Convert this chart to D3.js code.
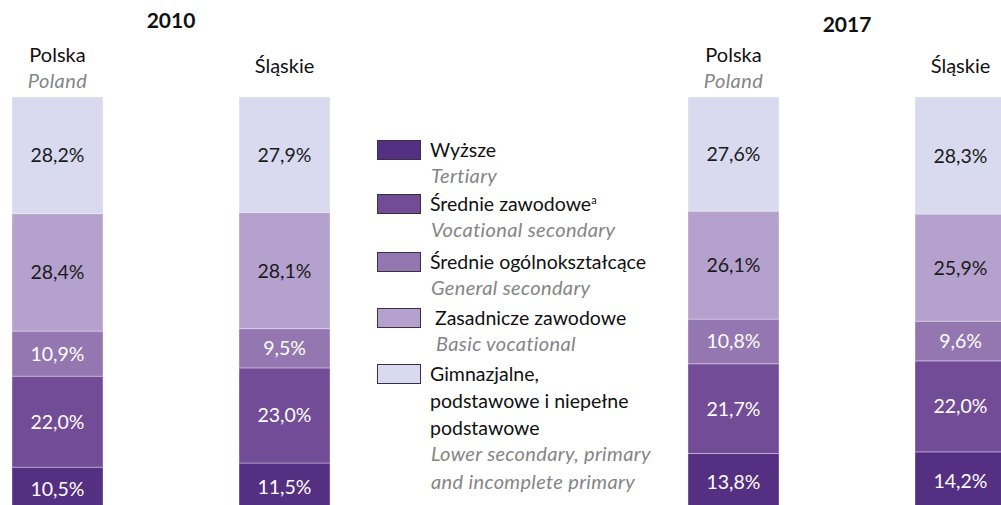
<!DOCTYPE html>
<html>
<head>
<meta charset="utf-8">
<script src="https://cdn.jsdelivr.net/npm/d3@7"></script>
<style>
  html, body { margin: 0; padding: 0; background: #fff; }
  svg { display: block; font-family: Lato, "Open Sans", sans-serif; }
</style>
</head>
<body>
<div id="chart"></div>
<script>
// data
const years = ["2010", "2017"];
const regions = ["Polska", "Śląskie"];
const regionsEn = ["Poland", ""];
const levels = ["Wyższe", "Średnie zawodowe", "Średnie ogólnokształcące", "Zasadnicze zawodowe", "Gimnazjalne"];
const levelsLegend = [
	["Wyższe"],
	["Średnie zawodowe"],
	["Średnie ogólnokształcące"],
	["Zasadnicze zawodowe"],
	["Gimnazjalne,", "podstawowe i niepełne", "podstawowe"]
];
const levelsEn = [
	["Tertiary"],
	["Vocational secondary"],
	["General secondary"],
	["Basic vocational"],
	["Lower secondary, primary", "and incomplete primary"]
];
const levelColors = ["#552f82", "#734c98", "#9477b0", "#b4a1cd", "#d9daef"];
// bottom to top, same order as levels
const polska2010 = [10.5, 22.0, 10.9, 28.4, 28.2];
const slaskie2010 = [11.5, 23.0, 9.5, 28.1, 27.9];
const polska2017 = [13.8, 21.7, 10.8, 26.1, 27.6];
const slaskie2017 = [14.2, 22.0, 9.6, 25.9, 28.3];

const series = [
	{year: "2010", region: "Polska", values: polska2010},
	{year: "2010", region: "Śląskie", values: slaskie2010},
	{year: "2017", region: "Polska", values: polska2017},
	{year: "2017", region: "Śląskie", values: slaskie2017}
];

const W = 1001, H = 505;
const svg = d3.select("#chart").append("svg")
	.attr("width", W)
	.attr("height", H);

// scales
let xYear = d3.scaleBand().domain(years).range([12, 12 + 676 * 2]);
let xRegion = d3.scaleBand().domain(regions).range([0, 318]).paddingInner(136 / 227);
let y = d3.scaleLinear().domain([100, 0]).range([97, 510.6]);
let color = d3.scaleOrdinal().domain(levels).range(levelColors);
let bw = xRegion.bandwidth();

// stack each bar
series.forEach(function(s){
	let acc = 0;
	s.segs = s.values.map(function(v, i){
		let seg = {level: levels[i], idx: i, v: v, y0: acc, y1: acc + v};
		acc += v;
		return seg;
	});
	s.x = xYear(s.year) + xRegion(s.region);
});

const bar = svg.selectAll("g.bar")
	.data(series)
	.enter()
	.append("g")
	.attr("class", "bar")
	.attr("transform", function(d){ return "translate(" + d.x + ",0)"; });

bar.selectAll("rect")
	.data(function(d){ return d.segs; })
	.enter()
	.append("rect")
	.attr("x", 0)
	.attr("width", bw)
	.attr("y", function(d){ return y(d.y1); })
	.attr("height", function(d){ return y(d.y0) - y(d.y1); })
	.attr("fill", function(d){ return color(d.level); })
	.attr("stroke", "rgba(255,255,255,0.35)")
	.attr("stroke-width", 1);

bar.selectAll("text.val")
	.data(function(d){ return d.segs; })
	.enter()
	.append("text")
	.attr("class", "val")
	.attr("x", bw / 2)
	.attr("y", function(d){ return (y(d.y0) + y(d.y1)) / 2; })
	.attr("dy", "0.36em")
	.attr("text-anchor", "middle")
	.attr("font-size", 19.5)
	.attr("fill", function(d){ return d.idx < 3 ? "#ffffff" : "#1a1a1a"; })
	.text(function(d){ return d.v.toFixed(1).replace(".", ",") + "%"; });

// region names above bars
bar.append("text")
	.attr("x", bw / 2)
	.attr("y", function(d){ return d.region === "Polska" ? 62 : 73; })
	.attr("text-anchor", "middle")
	.attr("font-size", 20)
	.attr("fill", "#111")
	.text(function(d){ return d.region; });

bar.filter(function(d){ return regionsEn[regions.indexOf(d.region)] !== ""; })
	.append("text")
	.attr("x", bw / 2)
	.attr("y", 88)
	.attr("text-anchor", "middle")
	.attr("font-size", 20)
	.attr("letter-spacing", 0.4)
	.attr("font-style", "italic")
	.attr("fill", "#858585")
	.text(function(d){ return regionsEn[regions.indexOf(d.region)]; });

// year headings
const yearBase = {"2010": 28, "2017": 32};
svg.selectAll("text.year")
	.data(years)
	.enter()
	.append("text")
	.attr("class", "year")
	.attr("x", function(d){ return xYear(d) + xRegion.range()[1] / 2; })
	.attr("y", function(d){ return yearBase[d]; })
	.attr("text-anchor", "middle")
	.attr("font-size", 21)
	.attr("font-weight", "bold")
	.attr("fill", "#111")
	.text(function(d){ return d; });

// legend
const legendTops = [150, 204, 262, 318, 374];
const lineH = 27;
const lg = svg.selectAll("g.legend")
	.data(levels)
	.enter()
	.append("g")
	.attr("class", "legend")
	.attr("transform", function(d, i){ return "translate(377," + legendTops[i] + ")"; });

lg.append("rect")
	.attr("x", 0.5)
	.attr("y", -9.5)
	.attr("width", 43)
	.attr("height", 19)
	.attr("fill", function(d){ return color(d); })
	.attr("stroke", "#3b2f45")
	.attr("stroke-width", 1);

lg.each(function(d, i){
	let g = d3.select(this);
	let tx = (i === 3) ? 58 : 53;
	let lines = levelsLegend[i];
	let t = g.append("text")
		.attr("x", tx)
		.attr("y", 7)
		.attr("font-size", 19.5)
		.attr("fill", "#111");
	lines.forEach(function(l, k){
		t.append("tspan").attr("x", tx).attr("dy", k === 0 ? 0 : lineH).text(l);
	});
	if(i === 1){
		t.append("tspan").attr("font-size", 11).attr("dy", -7).text("a");
	}
	let en = g.append("text")
		.attr("x", tx + 1)
		.attr("y", 7 + lines.length * lineH - 1)
		.attr("font-size", 20)
		.attr("letter-spacing", 0.35)
		.attr("font-style", "italic")
		.attr("fill", "#858585");
	levelsEn[i].forEach(function(l, k){
		en.append("tspan").attr("x", tx + 1).attr("dy", k === 0 ? 0 : lineH + 1).text(l);
	});
});
</script>
</body>
</html>
